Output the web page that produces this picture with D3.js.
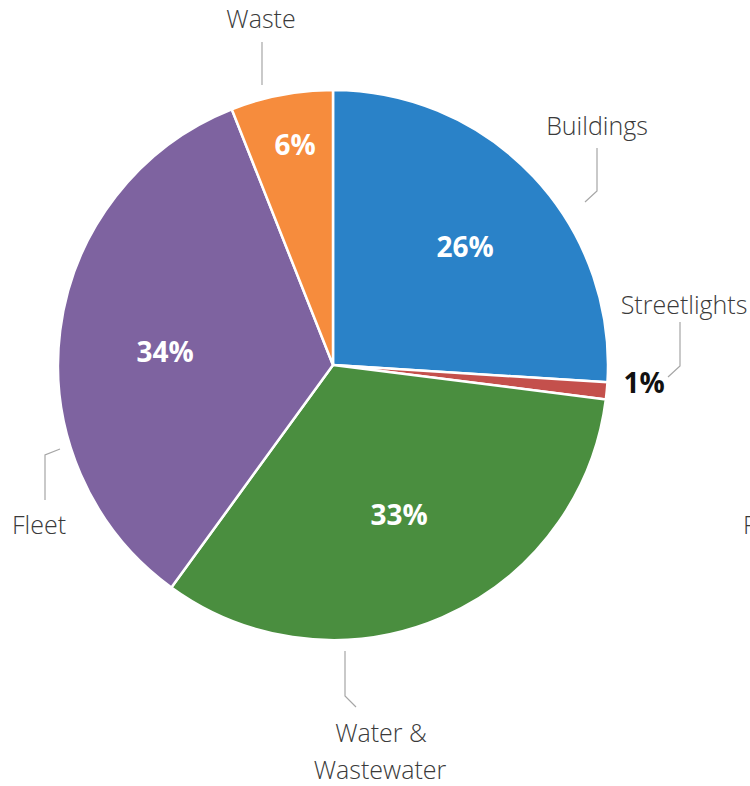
<!DOCTYPE html>
<html>
<head>
<meta charset="utf-8">
<script src="https://cdn.jsdelivr.net/npm/d3@7"></script>
<style>
  html, body { margin: 0; padding: 0; background: #fff; }
  svg { display: block; }
</style>
</head>
<body>
<svg id="chart" width="750" height="786"></svg>
<script>
// Emissions share by sector
const categories = ["Buildings", "Streetlights", "Water & Wastewater", "Fleet", "Waste"];
const values = [26, 1, 33, 34, 6];
const colors = ["#2a82c8", "#c4504c", "#4a8e3f", "#7e63a0", "#f68c3d"];

// Label placement (name lines, leader polyline, value label)
const layout = [
  { name: [{ x: 597, y: 135 }], leader: [[597, 148], [597, 191], [585, 202]], pct: { x: 465, y: 257, inside: true } },
  { name: [{ x: 684, y: 314 }], leader: [[680, 322], [680, 366], [668, 377]], pct: { x: 644, y: 393, inside: false } },
  { name: [{ x: 381, y: 742, t: "Water &" }, { x: 380, y: 779, t: "Wastewater" }], leader: [[345, 651], [345, 696], [356, 707]], pct: { x: 399, y: 525, inside: true } },
  { name: [{ x: 39, y: 534 }], leader: [[60, 449], [45, 455], [45, 500]], pct: { x: 165, y: 362, inside: true } },
  { name: [{ x: 261, y: 28 }], leader: [[262, 42], [262, 85]], pct: { x: 295, y: 155, inside: true } }
];

const svg = d3.select("#chart");
const cx = 333, cy = 365, radius = 275;

const pie = d3.pie().sort(null).value(d => d);
const arc = d3.arc().innerRadius(0).outerRadius(radius);
const arcs = pie(values);

const g = svg.append("g").attr("transform", `translate(${cx},${cy})`);

g.selectAll("path.slice")
  .data(arcs)
  .join("path")
  .attr("class", "slice")
  .attr("d", arc)
  .attr("fill", (d, i) => colors[i])
  .attr("stroke", "#fff")
  .attr("stroke-width", 2.5)
  .attr("stroke-linejoin", "round");

// Leader lines
const line = d3.line();
svg.selectAll("path.leader")
  .data(layout)
  .join("path")
  .attr("class", "leader")
  .attr("d", d => line(d.leader))
  .attr("fill", "none")
  .attr("stroke", "#a6a6a6")
  .attr("stroke-width", 1.2);

// Category names
layout.forEach((L, i) => {
  L.name.forEach(n => {
    svg.append("text")
      .attr("x", n.x).attr("y", n.y)
      .attr("text-anchor", "middle")
      .attr("font-family", "'Open Sans', sans-serif")
      .attr("font-weight", 300)
      .attr("font-size", 25)
      .attr("fill", "#3a3a3a")
      .text(n.t || categories[i]);
  });
});

// Percent labels
const fmt = v => Math.round(v) + "%";
layout.forEach((L, i) => {
  svg.append("text")
    .attr("x", L.pct.x).attr("y", L.pct.y)
    .attr("text-anchor", "middle")
    .attr("font-family", "'Open Sans', sans-serif")
    .attr("font-weight", 700)
    .attr("font-size", 28)
    .attr("fill", L.pct.inside ? "#ffffff" : "#111111")
    .text(fmt(values[i]));
});

// Partially visible neighbouring label at the right edge
svg.append("text")
  .attr("x", 743).attr("y", 534)
  .attr("font-family", "'Open Sans', sans-serif")
  .attr("font-weight", 300)
  .attr("font-size", 25)
  .attr("fill", "#3a3a3a")
  .text("F");
</script>
</body>
</html>
